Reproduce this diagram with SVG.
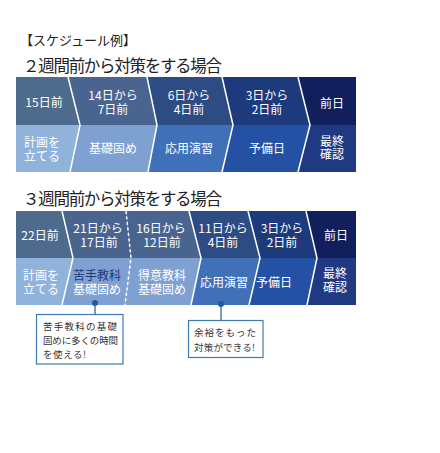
<svg xmlns="http://www.w3.org/2000/svg" width="440" height="453" viewBox="0 0 440 453">
<style>
text{font-family:"Noto Sans CJK JP","Noto Sans",sans-serif}
.ttl{fill:#222}
.w{fill:#fff;font-size:12px;text-anchor:middle}
.nv{fill:#1a3a80}
.sep{fill:none;stroke:#fff;stroke-width:1.5}
.dash{fill:none;stroke:#fff;stroke-width:1.5;stroke-dasharray:3 2.5}
.a1{fill:#4e6b8e}.a2{fill:#49658f}.a3{fill:#2c4c83}.a4{fill:#1d3a7c}.a5{fill:#111f5c}
.b1{fill:#8fb3db}.b2{fill:#7fa1d2}.b3{fill:#3f70b8}.b4{fill:#2551a4}.b5{fill:#1f3a82}
.box{fill:#fff;stroke:#3b7db0;stroke-width:1.2}
.lead{stroke:#1f5d96;stroke-width:1.2}
.dot{fill:#1f5d96}
.ct{fill:#333;font-size:9.5px}
</style>

<g id="titles">
<text class="ttl" x="20" y="45" font-size="13">【スケジュール例】</text>
<text class="ttl" x="23" y="72" font-size="16.5" textLength="199" lengthAdjust="spacing">２週間前から対策をする場合</text>
<text class="ttl" x="23" y="205" font-size="16.5" textLength="199" lengthAdjust="spacing">３週間前から対策をする場合</text>
</g>

<g id="plan2">
<g id="p2-c1">
<polygon class="a1" points="16,77 68,77 80,125 16,125"/>
<polygon class="b1" points="16,125 80,125 70,172 16,172"/>
<text class="w" x="44" y="106.5">15日前</text>
<text class="w" y="146.5"><tspan x="42">計画を</tspan><tspan x="42" dy="14.5">立てる</tspan></text>
</g>
<g id="p2-c2">
<polygon class="a2" points="68,77 147,77 157,125 80,125"/>
<polygon class="b2" points="80,125 157,125 148,172 70,172"/>
<text class="w" y="99.5"><tspan x="113">14日から</tspan><tspan x="113" dy="14">7日前</tspan></text>
<text class="w" x="113" y="152.5">基礎固め</text>
</g>
<g id="p2-c3">
<polygon class="a3" points="147,77 222,77 233,125 157,125"/>
<polygon class="b3" points="157,125 233,125 222,172 148,172"/>
<text class="w" y="99.5"><tspan x="189">6日から</tspan><tspan x="189" dy="14">4日前</tspan></text>
<text class="w" x="189" y="152.5">応用演習</text>
</g>
<g id="p2-c4">
<polygon class="a4" points="222,77 298,77 310,125 233,125"/>
<polygon class="b4" points="233,125 310,125 298,172 222,172"/>
<text class="w" y="99.5"><tspan x="267">3日から</tspan><tspan x="267" dy="14">2日前</tspan></text>
<text class="w" x="267" y="152.5">予備日</text>
</g>
<g id="p2-c5">
<polygon class="a5" points="298,77 356,77 356,125 310,125"/>
<polygon class="b5" points="310,125 356,125 356,172 298,172"/>
<text class="w" x="332" y="107.5">前日</text>
<text class="w" y="145.5"><tspan x="332">最終</tspan><tspan x="332" dy="13.5">確認</tspan></text>
</g>
</g>

<g id="plan3">
<g id="p3-c1">
<polygon class="a1" points="16,211 62,211 73,258 16,258"/>
<polygon class="b1" points="16,258 73,258 62,305 16,305"/>
<text class="w" x="40" y="239.5">22日前</text>
<text class="w" y="279.5"><tspan x="41">計画を</tspan><tspan x="41" dy="14.5">立てる</tspan></text>
</g>
<g id="p3-c2">
<polygon class="a2" points="62,211 126,211 131,258 73,258"/>
<polygon class="b2" points="73,258 131,258 125,305 62,305"/>
<text class="w" y="232.5"><tspan x="98">21日から</tspan><tspan x="99" dy="14">17日前</tspan></text>
<text class="w" y="279.5"><tspan class="nv" x="97">苦手教科</tspan><tspan x="97" dy="14.5">基礎固め</tspan></text>
</g>
<g id="p3-c3">
<polygon class="a2" points="126,211 189,211 201,258 131,258"/>
<polygon class="b2" points="131,258 201,258 191,305 125,305"/>
<text class="w" y="232.5"><tspan x="161">16日から</tspan><tspan x="162" dy="14">12日前</tspan></text>
<text class="w" y="279.5"><tspan x="162">得意教科</tspan><tspan x="162" dy="14.5">基礎固め</tspan></text>
</g>
<g id="p3-c4">
<polygon class="a3" points="189,211 248,211 260,258 201,258"/>
<polygon class="b3" points="201,258 260,258 249,305 191,305"/>
<text class="w" y="232.5"><tspan x="223">11日から</tspan><tspan x="223" dy="14">4日前</tspan></text>
<text class="w" x="224" y="286.5">応用演習</text>
</g>
<g id="p3-c5">
<polygon class="a4" points="248,211 306,211 317,258 260,258"/>
<polygon class="b4" points="260,258 317,258 307,305 249,305"/>
<text class="w" y="232.5"><tspan x="282">3日から</tspan><tspan x="282" dy="14">2日前</tspan></text>
<text class="w" x="274" y="286.5">予備日</text>
</g>
<g id="p3-c6">
<polygon class="a5" points="306,211 356,211 356,258 317,258"/>
<polygon class="b5" points="317,258 356,258 356,305 307,305"/>
<text class="w" x="336" y="239.5">前日</text>
<text class="w" y="277.5"><tspan x="335">最終</tspan><tspan x="335" dy="14">確認</tspan></text>
</g>
</g>

<g id="note1">
<rect class="box" x="36.5" y="314.5" width="86.5" height="49.5"/>
<text class="ct" y="330"><tspan x="43" textLength="74" lengthAdjust="spacing">苦手教科の基礎</tspan><tspan x="43" dy="14" textLength="75" lengthAdjust="spacing">固めに多くの時間</tspan><tspan x="43" dy="13.5" letter-spacing="0.6">を使える!</tspan></text>
</g>

<g id="note2">
<rect class="box" x="188.5" y="320.5" width="74.5" height="37"/>
<text class="ct" y="336"><tspan x="194" textLength="62" lengthAdjust="spacing">余裕をもった</tspan><tspan x="194" dy="15" textLength="61" lengthAdjust="spacing">対策ができる!</tspan></text>
</g>

<g id="connectors">
<polyline class="sep" points="68,77 80,125 70,172"/>
<polyline class="sep" points="147,77 157,125 148,172"/>
<polyline class="sep" points="222,77 233,125 222,172"/>
<polyline class="sep" points="298,77 310,125 298,172"/>
<polyline class="sep" points="62,211 73,258 62,305"/>
<polyline class="dash" points="126,211 131,258 125,305"/>
<polyline class="sep" points="189,211 201,258 191,305"/>
<polyline class="sep" points="248,211 260,258 249,305"/>
<polyline class="sep" points="306,211 317,258 307,305"/>
<line class="lead" x1="95" y1="303" x2="95" y2="314.5"/>
<circle class="dot" cx="95" cy="303" r="3"/>
<line class="lead" x1="221" y1="304" x2="221" y2="320.5"/>
<circle class="dot" cx="221" cy="304" r="3"/>
</g>
</svg>
